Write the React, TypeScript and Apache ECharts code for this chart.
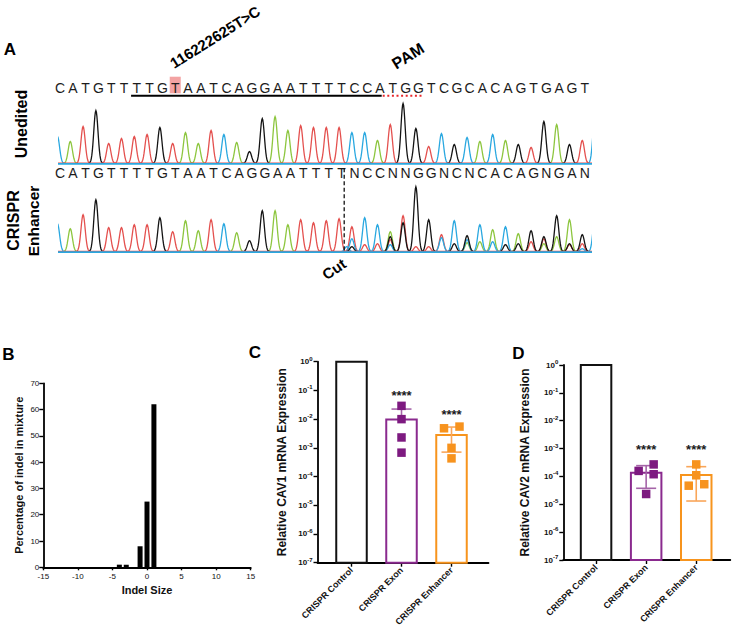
import React, { useEffect, useRef } from 'react';
import * as echarts from 'echarts';

const FONT = '"Liberation Sans", Arial, Helvetica, sans-serif';

// ---------- Panel A : Sanger traces ----------
const referenceSequence = 'CATGTTTTGTAATCAGGAATTTTCCATGGTCGCACAGTGAGT';
const editedSequence = 'CATGTTTTGTAATCAGGAATTTTNCCNNGGNCNCACAGNGAN';

// [base position, peak height]
const uneditedA = [[1, 22], [10, 31], [11, 20], [14, 21], [17, 47], [18, 33], [25, 23], [33, 22], [35, 23], [39, 39]];
const uneditedC = [[0, 27], [13, 29], [23, 31], [24, 31], [30, 30], [32, 26], [34, 29], [42, 50]];
const uneditedG = [[3, 53], [8, 36], [15, 12], [16, 45], [27, 60], [28, 35], [31, 19], [36, 19], [38, 42], [40, 19]];
const uneditedT = [[2, 37], [4, 20], [5, 25], [6, 27], [7, 29], [9, 20], [12, 33], [19, 38], [20, 36], [21, 36], [22, 36], [26, 39], [29, 17], [37, 16], [41, 23]];

const editedA = [[1, 23], [10, 31], [11, 21], [14, 19], [17, 41], [18, 27], [26, 20], [32, 9], [33, 10], [34, 22], [36, 18], [38, 8], [39, 15], [40, 32]];
const editedC = [[0, 28], [13, 28], [22.6, 5], [23, 13], [24, 34], [25, 27], [26, 7], [30, 14], [31, 31], [32, 12], [33, 27], [34, 10], [35, 25], [41, 3], [42, 35]];
const editedG = [[3, 52], [8, 34], [15, 11], [16, 41], [23, 5], [26, 15], [27, 29], [28, 65], [29, 32], [31, 8], [32, 16], [35, 7], [36, 8], [37, 21], [38, 15], [39, 36], [40, 8], [41, 17]];
const editedT = [[2, 37], [4, 24], [5, 24], [6, 27], [7, 27], [9, 20], [12, 32], [19, 32], [20, 29], [21, 31], [22, 33], [23, 25], [24, 7], [25, 8], [26, 12], [27, 36], [28, 5], [29, 5], [30, 17], [37, 10], [38, 13], [40, 7], [41, 8]];

const snvLetter = 9;
const guideSpan = [5.55, 25.13];
const pamSpan = [25.13, 28.3];
const cutLetter = 22.2;

// ---------- Panel B ----------
const indelSizes = [-4, -3, -1, 0, 1];
const indelPercent = [1, 1, 8, 25, 62];

// ---------- Panels C & D ----------
const groups = ['CRISPR Control', 'CRISPR Exon', 'CRISPR Enhancer'];
const logTicks = [-7, -6, -5, -4, -3, -2, -1, 0];

const cav1Mean = [1, 0.0098, 0.0028];
const cav1ErrHigh = [null, 0.0224, 0.0053];
const cav1ErrLow = [null, null, 0.00071];
const cav1ExonPoints = [0.029, 0.01, 0.0023, 0.00068];
const cav1ExonJitter = [0, 0, 0, 0];
const cav1EnhancerPoints = [0.0048, 0.0055, 0.001, 0.00043];
const cav1EnhancerJitter = [-0.15, 0.16, 0, 0];
const cav1Stars = [null, 0.088, 0.019];

const cav2Mean = [1, 0.000136, 0.000113];
const cav2ErrHigh = [null, 0.000244, 0.000224];
const cav2ErrLow = [null, 0.0000375, 0.0000131];
const cav2ExonPoints = [0.000158, 0.00027, 0.00012, 0.0000234];
const cav2ExonJitter = [-0.15, 0.15, 0.15, 0];
const cav2EnhancerPoints = [0.00027, 0.00011, 0.0000465, 0.0000525];
const cav2EnhancerJitter = [0, 0, -0.15, 0.16];
const cav2Stars = [null, 0.00117, 0.00117];

// ---------- styles ----------
const TRACE = { A: '#8DC63F', C: '#2AA8E0', G: '#141414', T: '#E4514F' };
const STROKE = ['#111111', '#8A2A8E', '#F7941D'];
const POINT = ['#111111', '#7D1A80', '#F7931E'];
const ERR = ['#111111', '#A564A8', '#F9A65A'];
const LETTER_SHIFT = 0.2;
const SIGMA = 0.165;

function peakSeries(data: number[][], color: string, grid: number) {
  return {
    type: 'custom',
    xAxisIndex: grid,
    yAxisIndex: grid,
    clip: true,
    silent: true,
    data,
    renderItem: (params: any, api: any) => {
      const pos = api.value(0);
      const h = api.value(1);
      const pts: number[][] = [];
      for (let k = -14; k <= 14; k++) {
        const t = k * 0.04;
        pts.push(api.coord([pos + t, h * Math.exp(-(t * t) / (2 * SIGMA * SIGMA))]));
      }
      return { type: 'polyline', shape: { points: pts }, style: { stroke: color, fill: null, lineWidth: 1.3 } };
    },
  };
}

function lettersSeries(seq: string, grid: number, yVal: number) {
  return {
    type: 'custom',
    xAxisIndex: grid,
    yAxisIndex: grid,
    silent: true,
    data: seq.split('').map((_, i) => [i]),
    renderItem: (params: any, api: any) => {
      const p = api.coord([api.value(0) + LETTER_SHIFT, yVal]);
      return {
        type: 'text',
        x: p[0],
        y: p[1],
        style: { text: seq[params.dataIndex], fontSize: 14, fontFamily: FONT, fill: '#1c1c1c', align: 'center', verticalAlign: 'middle' },
      };
    },
  };
}

function baselineSeries(grid: number) {
  return {
    type: 'custom',
    xAxisIndex: grid,
    yAxisIndex: grid,
    silent: true,
    data: [[0]],
    renderItem: (params: any, api: any) => {
      const cs = params.coordSys;
      const y = api.coord([0, 0])[1];
      return {
        type: 'group',
        children: [
          { type: 'line', shape: { x1: cs.x, y1: y - 0.3, x2: cs.x + cs.width, y2: y - 0.3 }, style: { stroke: TRACE.T, lineWidth: 1.2 } },
          { type: 'line', shape: { x1: cs.x, y1: y + 0.4, x2: cs.x + cs.width, y2: y + 0.4 }, style: { stroke: TRACE.C, lineWidth: 1.6 } },
        ],
      };
    },
  };
}

function logBarSeries(grid: number, means: number[]) {
  return {
    type: 'custom',
    xAxisIndex: grid,
    yAxisIndex: grid,
    silent: true,
    data: means.map((m, i) => [i, Math.log10(m)]),
    renderItem: (params: any, api: any) => {
      const i = api.value(0);
      const top = api.coord([i, api.value(1)]);
      const bottom = api.coord([i, -7]);
      const w = 30.5;
      return {
        type: 'rect',
        shape: { x: top[0] - w / 2, y: top[1], width: w, height: bottom[1] - top[1] },
        style: { fill: '#ffffff', stroke: STROKE[params.dataIndex], lineWidth: 2 },
      };
    },
  };
}

function errorSeries(grid: number, means: number[], highs: (number | null)[], lows: (number | null)[]) {
  const data: number[][] = [];
  means.forEach((m, i) => {
    const hi = highs[i];
    if (hi == null) return;
    const lo = lows[i];
    data.push([i, Math.log10(hi), lo == null ? Math.log10(m) : Math.log10(lo), lo == null ? 0 : 1]);
  });
  return {
    type: 'custom',
    xAxisIndex: grid,
    yAxisIndex: grid,
    silent: true,
    data,
    renderItem: (params: any, api: any) => {
      const i = api.value(0);
      const hi = api.coord([i, api.value(1)]);
      const lo = api.coord([i, api.value(2)]);
      const hasLow = api.value(3) === 1;
      const color = ERR[i];
      const cw = 10;
      const children: any[] = [
        { type: 'line', shape: { x1: hi[0], y1: hi[1], x2: lo[0], y2: lo[1] }, style: { stroke: color, lineWidth: 1.6 } },
        { type: 'line', shape: { x1: hi[0] - cw, y1: hi[1], x2: hi[0] + cw, y2: hi[1] }, style: { stroke: color, lineWidth: 1.6 } },
      ];
      if (hasLow) children.push({ type: 'line', shape: { x1: lo[0] - cw, y1: lo[1], x2: lo[0] + cw, y2: lo[1] }, style: { stroke: color, lineWidth: 1.6 } });
      return { type: 'group', children };
    },
  };
}

function pointSeries(grid: number, group: number, values: number[], jitter: number[]) {
  return {
    type: 'scatter',
    xAxisIndex: grid,
    yAxisIndex: grid,
    silent: true,
    symbol: 'rect',
    symbolSize: 8.5,
    itemStyle: { color: POINT[group], opacity: 1 },
    data: values.map((v, k) => [group + jitter[k], Math.log10(v)]),
  };
}

function starSeries(grid: number, stars: (number | null)[]) {
  const data: number[][] = [];
  stars.forEach((s, i) => {
    if (s != null) data.push([i, Math.log10(s)]);
  });
  return {
    type: 'custom',
    xAxisIndex: grid,
    yAxisIndex: grid,
    silent: true,
    data,
    renderItem: (params: any, api: any) => {
      const p = api.coord([api.value(0), api.value(1)]);
      return {
        type: 'text',
        x: p[0],
        y: p[1] + 3,
        style: { text: '****', fontSize: 13, fontWeight: 'bold', fontFamily: FONT, fill: '#1a1a1a', align: 'center', verticalAlign: 'middle' },
      };
    },
  };
}

const axisLine = { show: true, onZero: false, lineStyle: { color: '#000', width: 1.8 } };
const tickStyle = { color: '#000', width: 1.4 };

function logYAxis(grid: number, name: string, gap: number) {
  return {
    gridIndex: grid,
    type: 'value',
    min: -7,
    max: 0,
    interval: 1,
    axisLine,
    axisTick: { show: true, length: 4, lineStyle: tickStyle },
    splitLine: { show: false },
    axisLabel: {
      margin: 5,
      customValues: logTicks,
      formatter: (v: number) => `{b|10}{s|${v}}`,
      rich: {
        b: { fontSize: 8, fontWeight: 'bold', fontFamily: FONT, color: '#111', lineHeight: 12 },
        s: { fontSize: 6, fontWeight: 'bold', fontFamily: FONT, color: '#111', verticalAlign: 'top' },
      },
    },
    name,
    nameLocation: 'middle',
    nameGap: gap,
    nameTextStyle: { fontSize: 12, fontWeight: 'bold', fontFamily: FONT, color: '#111' },
  };
}

function groupXAxis(grid: number, min: number, max: number) {
  return {
    gridIndex: grid,
    type: 'value',
    min,
    max,
    axisLine,
    axisTick: { show: true, length: 4, lineStyle: tickStyle, customValues: [0, 1, 2] },
    splitLine: { show: false },
    axisLabel: {
      customValues: [0, 1, 2],
      formatter: (v: number) => groups[Math.round(v)] ?? '',
      rotate: 45,
      margin: 6,
      fontSize: 9,
      fontWeight: 'bold',
      fontFamily: FONT,
      color: '#111',
    },
  };
}

function buildOption() {
  const hidden = { show: false };
  const label = (text: string, x: number, y: number, size: number, rotation = 0) => ({
    type: 'text',
    x,
    y,
    rotation,
    silent: true,
    style: { text, fontSize: size, fontWeight: 'bold', fontFamily: FONT, fill: '#000', align: 'center', verticalAlign: 'middle' },
  });

  return {
    animation: false,
    backgroundColor: '#ffffff',
    grid: [
      { left: 58, top: 70, width: 534, height: 93.5 },
      { left: 58, top: 158.2, width: 534, height: 93.5 },
      { left: 43.3, top: 383.3, width: 207.4, height: 184 },
      { left: 317.5, top: 361.7, width: 171, height: 201 },
      { left: 563.3, top: 365, width: 167, height: 195 },
    ],
    xAxis: [
      { gridIndex: 0, type: 'value', min: 0.04, max: 41.76, ...hidden },
      { gridIndex: 1, type: 'value', min: 0.04, max: 41.76, ...hidden },
      {
        gridIndex: 2,
        type: 'value',
        min: -15,
        max: 15,
        interval: 5,
        axisLine,
        axisTick: { show: true, length: 3, lineStyle: tickStyle },
        splitLine: { show: false },
        axisLabel: { fontSize: 8, margin: 5, color: '#111', fontFamily: FONT },
        name: 'Indel Size',
        nameLocation: 'middle',
        nameGap: 17,
        nameTextStyle: { fontSize: 11, fontWeight: 'bold', fontFamily: FONT, color: '#111' },
      },
      groupXAxis(3, -0.68, 2.74),
      groupXAxis(4, -0.654, 2.68),
    ],
    yAxis: [
      { gridIndex: 0, type: 'value', min: 0, max: 93.5, ...hidden },
      { gridIndex: 1, type: 'value', min: 0, max: 93.5, ...hidden },
      {
        gridIndex: 2,
        type: 'value',
        min: 0,
        max: 70,
        interval: 10,
        axisLine,
        axisTick: { show: true, length: 4, lineStyle: tickStyle },
        splitLine: { show: false },
        axisLabel: { fontSize: 8, margin: 4, color: '#111', fontFamily: FONT },
        name: 'Percentage of indel in mixture',
        nameLocation: 'middle',
        nameGap: 19,
        nameTextStyle: { fontSize: 11, fontWeight: 'bold', fontFamily: FONT, color: '#111' },
      },
      logYAxis(3, 'Relative CAV1 mRNA Expression', 30),
      logYAxis(4, 'Relative CAV2 mRNA Expression', 32),
    ],
    graphic: [
      label('A', 10, 49, 17),
      label('B', 8.5, 354.5, 17),
      label('C', 255, 352.5, 17),
      label('D', 518.3, 353.5, 17),
      label('Unedited', 21.7, 124, 16, Math.PI / 2),
      label('CRISPR', 13.3, 220.5, 16, Math.PI / 2),
      label('Enhancer', 33.3, 221, 15.5, Math.PI / 2),
      label('116222625T>C', 215, 37, 15, 0.56),
      label('PAM', 408, 56, 16, 0.56),
      label('Cut', 334, 269, 15, 0.6),
    ],
    series: [
      // Panel A top: annotations + letters
      {
        type: 'custom',
        xAxisIndex: 0,
        yAxisIndex: 0,
        silent: true,
        data: [[0]],
        renderItem: (params: any, api: any) => {
          const h0 = api.coord([snvLetter + LETTER_SHIFT - 0.43, 86.8]);
          const h1 = api.coord([snvLetter + LETTER_SHIFT + 0.43, 70.2]);
          const u0 = api.coord([guideSpan[0] + LETTER_SHIFT, 67.8]);
          const u1 = api.coord([guideSpan[1] + LETTER_SHIFT, 67.8]);
          const p1 = api.coord([pamSpan[1] + LETTER_SHIFT, 67.8]);
          return {
            type: 'group',
            children: [
              { type: 'rect', shape: { x: h0[0], y: h0[1], width: h1[0] - h0[0], height: h1[1] - h0[1] }, style: { fill: '#F3A3A3' } },
              { type: 'line', shape: { x1: u0[0], y1: u0[1], x2: u1[0], y2: u1[1] }, style: { stroke: '#000', lineWidth: 2 } },
              { type: 'line', shape: { x1: u1[0] + 1, y1: u0[1], x2: p1[0], y2: u0[1] }, style: { stroke: '#E8262A', lineWidth: 2, lineDash: [2, 2.6] } },
            ],
          };
        },
      },
      lettersSeries(referenceSequence, 0, 75.5),
      peakSeries(uneditedT, TRACE.T, 0),
      peakSeries(uneditedA, TRACE.A, 0),
      peakSeries(uneditedC, TRACE.C, 0),
      peakSeries(uneditedG, TRACE.G, 0),
      baselineSeries(0),
      // Panel A bottom
      lettersSeries(editedSequence, 1, 78.4),
      peakSeries(editedT, TRACE.T, 1),
      peakSeries(editedA, TRACE.A, 1),
      peakSeries(editedC, TRACE.C, 1),
      peakSeries(editedG, TRACE.G, 1),
      baselineSeries(1),
      {
        type: 'custom',
        xAxisIndex: 1,
        yAxisIndex: 1,
        silent: true,
        data: [[cutLetter + LETTER_SHIFT]],
        renderItem: (params: any, api: any) => {
          const a = api.coord([api.value(0), 83.4]);
          const b = api.coord([api.value(0), 0]);
          return { type: 'line', shape: { x1: a[0], y1: a[1], x2: b[0], y2: b[1] }, style: { stroke: '#111', lineWidth: 1.3, lineDash: [4, 2.5] } };
        },
      },
      // Panel B
      {
        type: 'bar',
        xAxisIndex: 2,
        yAxisIndex: 2,
        barWidth: 5,
        silent: true,
        itemStyle: { color: '#000' },
        data: indelSizes.map((s, i) => [s, indelPercent[i]]),
      },
      // Panel C
      logBarSeries(3, cav1Mean),
      errorSeries(3, cav1Mean, cav1ErrHigh, cav1ErrLow),
      pointSeries(3, 1, cav1ExonPoints, cav1ExonJitter),
      pointSeries(3, 2, cav1EnhancerPoints, cav1EnhancerJitter),
      starSeries(3, cav1Stars),
      // Panel D
      logBarSeries(4, cav2Mean),
      errorSeries(4, cav2Mean, cav2ErrHigh, cav2ErrLow),
      pointSeries(4, 1, cav2ExonPoints, cav2ExonJitter),
      pointSeries(4, 2, cav2EnhancerPoints, cav2EnhancerJitter),
      starSeries(4, cav2Stars),
    ],
  };
}

export default function App() {
  const ref = useRef<HTMLDivElement>(null);
  useEffect(() => {
    if (!ref.current) return;
    const chart = echarts.init(ref.current, null, { renderer: 'svg' });
    chart.setOption(buildOption() as any);
    return () => chart.dispose();
  }, []);
  return (
    <div
      ref={ref}
      style={{ position: 'absolute', left: 0, top: 0, width: 733, height: 632, background: '#ffffff' }}
    />
  );
}
